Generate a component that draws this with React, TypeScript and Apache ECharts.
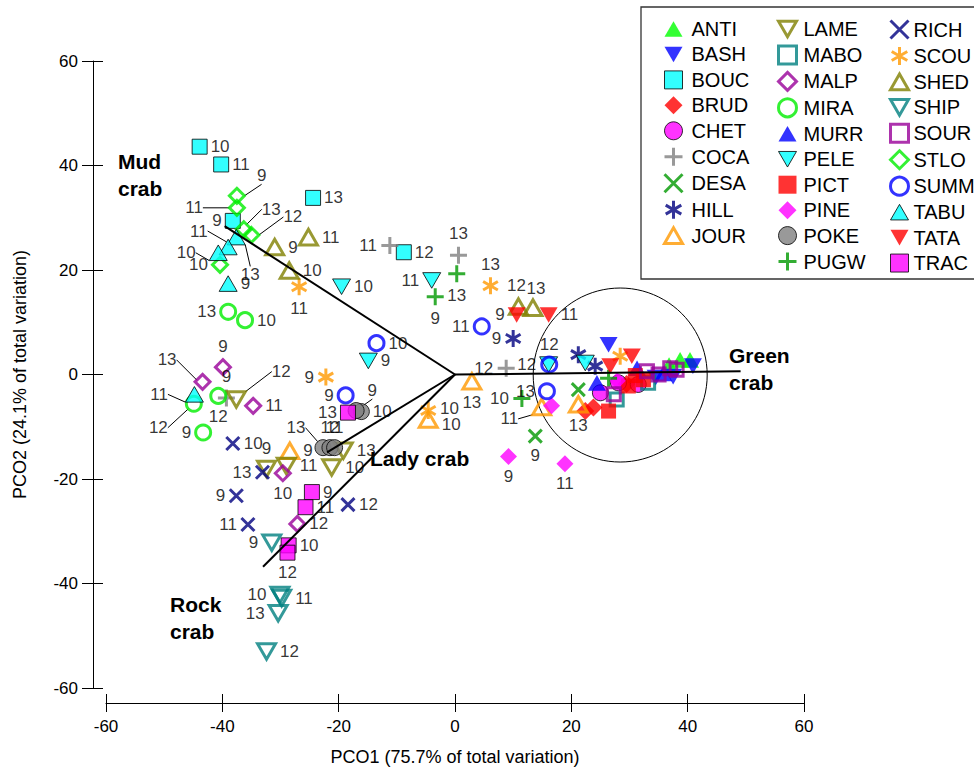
import React, { useEffect, useRef } from 'react';
import * as echarts from 'echarts';

// ---------- DATA ----------
const X_TICKS = [-60, -40, -20, 0, 20, 40, 60];
const Y_TICKS = [-60, -40, -20, 0, 20, 40, 60];

const ANTI = [[38.7, 2.8, ''], [40.4, 2.8, ''], [36.8, 1.8, '']];
const BASH = [[26.4, 5.7, ''], [40.9, 1.6, ''], [34.5, -0.6, ''], [37.5, -0.4, '']];
const BOUC = [[-43.9, 43.6, '10'], [-40.2, 40.2, '11'], [-24.4, 33.8, '13'], [-38.2, 29.4, '9'], [-8.8, 23.4, '12']];
const BRUD = [[22.4, -7.0, ''], [23.8, -6.3, ''], [29.5, -1.8, '']];
const CHET = [[25.0, -3.5, ''], [28.1, -1.6, ''], [31.5, -1.9, '']];
const COCA = [[-11.2, 24.7, '11'], [0.6, 22.8, '13'], [8.8, 1.2, '12'], [-39.3, -4.5, '9']];
const DESA = [[13.8, -11.8, '9'], [21.2, -2.9, '']];
const HILL = [[10.0, 6.9, '9'], [21.2, 3.8, ''], [24.1, 1.6, '']];
const JOUR = [[-28.4, -14.6, '9'], [-4.6, -8.6, '10'], [2.9, -1.3, '13'], [14.9, -6.2, '11'], [21.2, -5.7, '13']];
const LAME = [[-37.6, -4.8, '12'], [-32.4, -18.1, '9'], [-29.0, -17.5, '11'], [-21.2, -17.8, '10'], [-19.2, -14.6, '13']];
const MABO = [[27.8, -4.8, ''], [33.2, -1.6, '']];
const MALP = [[-43.4, -1.4, '13'], [-39.9, 1.4, '9'], [-34.7, -6.0, '11'], [-29.6, -18.9, '10'], [-27.1, -28.6, '12']];
const MIRA = [[-39.0, 12.0, '13'], [-36.1, 10.4, '10'], [-44.9, -5.6, '12'], [-40.7, -4.1, '12'], [-43.3, -11.1, '9']];
const MURR = [[24.4, -1.6, ''], [31.3, 1.2, ''], [35.8, 0.2, '']];
const PELE = [[-19.5, 16.8, '10'], [-4.0, 18.0, '11'], [-14.9, 2.6, '9'], [16.1, 1.9, '12'], [22.4, 2.2, '']];
const PICT = [[26.4, -7.0, ''], [29.8, -2.2, ''], [32.4, -1.0, ''], [31.0, -0.2, '']];
const PINE = [[9.2, -15.7, '9'], [18.9, -17.1, '11'], [16.6, -6.0, ''], [27.9, -1.2, '']];
const POKE = [[-16.1, -7.1, '10'], [-17.0, -6.9, '9'], [-22.7, -14.0, '13'], [-21.5, -14.0, '12'], [-20.7, -14.0, '11']];
const PUGW = [[0.3, 19.3, '13'], [-3.4, 14.9, '9'], [11.5, -4.6, '10'], [26.4, -0.7, '']];
const RICH = [[-38.2, -13.2, '10'], [-33.1, -18.7, '13'], [-37.6, -23.2, '9'], [-35.6, -28.7, '11'], [-18.4, -24.9, '12']];
const SCOU = [[-26.8, 16.8, '11'], [-22.2, -0.5, '9'], [-4.6, -6.9, '10'], [6.1, 17.0, '13'], [28.4, 3.5, '']];
const SHED = [[-25.2, 26.3, '11'], [-31.0, 24.4, '9'], [-28.5, 19.9, '10'], [10.9, 13.0, '12'], [13.4, 12.8, '13']];
const SHIP = [[-31.5, -32.2, '9'], [-30.1, -42.2, '10'], [-29.8, -42.8, '11'], [-30.4, -45.7, '13'], [-32.4, -53.0, '12']];
const SOUR = [[27.3, -3.8, ''], [33.0, 0.6, ''], [35.0, 0.0, ''], [37.0, 1.2, ''], [38.1, 0.9, '']];
const STLO = [[-37.5, 34.2, '9'], [-37.5, 31.9, '11'], [-36.3, 27.8, '13'], [-35.0, 26.7, '12'], [-40.4, 21.0, '10']];
const SUMM = [[-13.5, 6.0, '10'], [-18.8, -4.0, '9'], [4.6, 9.2, '11'], [16.2, 1.9, '12'], [15.8, -3.2, '13']];
const TABU = [[-37.6, 26.3, '13'], [-39.0, 24.4, '11'], [-40.7, 23.3, '10'], [-39.0, 17.4, '9'], [-44.8, -3.8, '11']];
const TATA = [[10.6, 11.4, '9'], [16.1, 11.4, '11'], [30.4, 3.5, ''], [26.7, 1.6, '']];
const TRAC = [[-18.4, -7.3, '13'], [-24.6, -22.5, '9'], [-25.7, -25.4, '11'], [-28.6, -32.7, '10'], [-28.8, -34.1, '12']];

// vectors (end points from origin)
const VECTORS = [
  { name: 'Mud crab', end: [-39.6, 28.4] },
  { name: 'Green crab', end: [49.1, 0.6] },
  { name: 'Lady crab', end: [-22.0, -14.9] },
  { name: 'Rock crab', end: [-33.0, -36.8] },
];
const CIRCLE_CENTER = [28.4, -0.1];

const SITE_DATA: Record<string, any[]> = {
  ANTI, BASH, BOUC, BRUD, CHET, COCA, DESA, HILL, JOUR, LAME, MABO, MALP, MIRA, MURR,
  PELE, PICT, PINE, POKE, PUGW, RICH, SCOU, SHED, SHIP, SOUR, STLO, SUMM, TABU, TATA, TRAC,
};

const LEGEND_COL1 = ['ANTI', 'BASH', 'BOUC', 'BRUD', 'CHET', 'COCA', 'DESA', 'HILL', 'JOUR'];
const LEGEND_COL2 = ['LAME', 'MABO', 'MALP', 'MIRA', 'MURR', 'PELE', 'PICT', 'PINE', 'POKE', 'PUGW'];
const LEGEND_COL3 = ['RICH', 'SCOU', 'SHED', 'SHIP', 'SOUR', 'STLO', 'SUMM', 'TABU', 'TATA', 'TRAC'];

// ---------- STYLES ----------
const TRI_UP = 'path://M5,0L10,8.66L0,8.66Z';
const TRI_DN = 'path://M0,0L10,0L5,8.66Z';
const PLUS = 'path://M5,0L5,10M0,5L10,5';
const CROSS = 'path://M0,0L10,10M10,0L0,10';
const STAR = 'path://M5,0L5,10M0.67,2.5L9.33,7.5M0.67,7.5L9.33,2.5';

type St = { sym: string; color: string; kind: 'fill' | 'edge' | 'hollow' | 'line'; size: number };
const STYLE: Record<string, St> = {
  ANTI: { sym: TRI_UP, color: '#00ff00', kind: 'fill', size: 18 },
  BASH: { sym: TRI_DN, color: '#0000ff', kind: 'fill', size: 18 },
  BOUC: { sym: 'rect', color: '#00ffff', kind: 'edge', size: 15 },
  BRUD: { sym: 'diamond', color: '#ff0000', kind: 'fill', size: 18 },
  CHET: { sym: 'circle', color: '#ff00ff', kind: 'edge', size: 16 },
  COCA: { sym: PLUS, color: '#808080', kind: 'line', size: 17 },
  DESA: { sym: CROSS, color: '#009900', kind: 'line', size: 13 },
  HILL: { sym: STAR, color: '#000080', kind: 'line', size: 17 },
  JOUR: { sym: TRI_UP, color: '#ff9900', kind: 'hollow', size: 18 },
  LAME: { sym: TRI_DN, color: '#808000', kind: 'hollow', size: 18 },
  MABO: { sym: 'rect', color: '#008080', kind: 'hollow', size: 13 },
  MALP: { sym: 'diamond', color: '#990099', kind: 'hollow', size: 15 },
  MIRA: { sym: 'circle', color: '#00ee00', kind: 'hollow', size: 15 },
  MURR: { sym: TRI_UP, color: '#0000ff', kind: 'fill', size: 18 },
  PELE: { sym: TRI_DN, color: '#00ffff', kind: 'edge', size: 18 },
  PICT: { sym: 'rect', color: '#ff0000', kind: 'fill', size: 15 },
  PINE: { sym: 'diamond', color: '#ff00ff', kind: 'fill', size: 17 },
  POKE: { sym: 'circle', color: '#808080', kind: 'edge', size: 16 },
  PUGW: { sym: PLUS, color: '#009900', kind: 'line', size: 17 },
  RICH: { sym: CROSS, color: '#000080', kind: 'line', size: 13 },
  SCOU: { sym: STAR, color: '#ff9900', kind: 'line', size: 17 },
  SHED: { sym: TRI_UP, color: '#808000', kind: 'hollow', size: 18 },
  SHIP: { sym: TRI_DN, color: '#008080', kind: 'hollow', size: 18 },
  SOUR: { sym: 'rect', color: '#990099', kind: 'hollow', size: 13 },
  STLO: { sym: 'diamond', color: '#00ee00', kind: 'hollow', size: 15 },
  SUMM: { sym: 'circle', color: '#0000ff', kind: 'hollow', size: 15 },
  TABU: { sym: TRI_UP, color: '#00ffff', kind: 'edge', size: 18 },
  TATA: { sym: TRI_DN, color: '#ff0000', kind: 'fill', size: 18 },
  TRAC: { sym: 'rect', color: '#ff00ff', kind: 'edge', size: 15 },
};

// label placement per point (aligned with data arrays)
const LABEL_POS: Record<string, string[]> = {
  BOUC: ['right', 'right', 'right', 'left', 'right'],
  COCA: ['left', 'top', 'left', 'top'],
  DESA: ['bottom', 'right'],
  HILL: ['left', 'right', 'right'],
  JOUR: ['right', 'right', 'bottom', 'left', 'bottom'],
  LAME: ['right', 'top', 'right', 'right', 'right'],
  MALP: ['left', 'top', 'right', 'bottom', 'right'],
  MIRA: ['left', 'right', 'left', 'bottom', 'left'],
  PELE: ['right', 'left', 'right', 'left', 'right'],
  PINE: ['bottom', 'bottom', 'right', 'right'],
  POKE: ['right', 'right', 'left', 'top', 'top'],
  PUGW: ['bottom', 'bottom', 'left', 'right'],
  RICH: ['right', 'left', 'left', 'left', 'right'],
  SCOU: ['bottom', 'left', 'right', 'top', 'right'],
  SHED: ['right', 'right', 'right', 'top', 'top'],
  SHIP: ['left', 'left', 'right', 'left', 'right'],
  STLO: ['right', 'left', 'right', 'right', 'left'],
  SUMM: ['right', 'left', 'left', 'top', 'left'],
  TABU: ['bottom', 'left', 'left', 'right', 'left'],
  TATA: ['left', 'right', 'right', 'right'],
  TRAC: ['left', 'right', 'right', 'right', 'bottom'],
};
// leader-line label offsets [dx, dy] for a few points
const LEADERS: Record<string, Record<number, [number, number]>> = {
  STLO: { 0: [8, -20], 1: [-22, 0], 2: [6, -20], 3: [20, -18] },
  TABU: { 0: [14, 18], 1: [-8, -16], 2: [-10, 0], 4: [-14, 0] },
  MALP: { 0: [-14, -22] },
  MIRA: { 2: [-14, 24] },
  LAME: { 0: [22, -28] },
  POKE: { 1: [0, -20], 2: [-6, -20] },
  JOUR: { 3: [-10, 12] },
};
// small label nudges without leader lines
const NUDGES: Record<string, Record<number, [number, number]>> = {
  JOUR: { 1: [0, 5] },
  SCOU: { 2: [0, -2] },
  SHED: { 3: [-2, 0], 4: [3, 2] },
};

const FONT = '"Liberation Sans", Arial, Helvetica, sans-serif';

function siteSeries(name: string) {
  const st = STYLE[name];
  const pos = LABEL_POS[name] || [];
  const lead = LEADERS[name] || {};
  const nudge = NUDGES[name] || {};
  let itemStyle: any;
  if (st.kind === 'fill') itemStyle = { color: st.color, borderWidth: 0 };
  else if (st.kind === 'edge') itemStyle = { color: st.color, borderColor: '#000', borderWidth: 1 };
  else if (st.kind === 'hollow') itemStyle = { color: 'rgba(255,255,255,0)', borderColor: st.color, borderWidth: 3 };
  else itemStyle = { color: st.color, borderColor: st.color, borderWidth: 3 };
  return {
    type: 'scatter',
    name,
    symbol: st.sym,
    symbolSize: st.size,
    symbolKeepAspect: true,
    itemStyle,
    label: {
      show: true,
      formatter: '{b}',
      color: '#000',
      fontSize: 17,
      fontFamily: FONT,
      distance: 3,
    },
    labelLine: { show: false, lineStyle: { color: '#000', width: 1 } },
    labelLayout: (p: any) => {
      const o = lead[p.dataIndex] || nudge[p.dataIndex];
      return o ? { dx: o[0], dy: o[1] } : {};
    },
    emphasis: { disabled: true },
    data: SITE_DATA[name].map((d: any, i: number) => ({
      value: [d[0], d[1]],
      name: d[2],
      label: { position: pos[i] || 'right' },
      labelLine: { show: !!lead[i], length2: 0 },
    })),
    z: 2,
  };
}

function legendFor(data: string[], left: number, pad: number) {
  return {
    orient: 'vertical',
    left,
    top: 19,
    padding: 0,
    itemWidth: 18,
    itemHeight: 18,
    itemGap: 5.45,
    selectedMode: false,
    symbolKeepAspect: true,
    itemStyle: { borderWidth: 'inherit' },
    textStyle: { fontSize: 20, lineHeight: 20, color: '#000', fontFamily: FONT, padding: [0, 0, 0, pad] },
    data,
  };
}

export default function App() {
  const ref = useRef<HTMLDivElement>(null);
  useEffect(() => {
    if (!ref.current) return;
    const chart = echarts.init(ref.current, undefined, { renderer: 'svg' });
    const names = Object.keys(SITE_DATA);
    const axisCommon = {
      type: 'value',
      min: -60,
      max: 60,
      interval: 20,
      splitLine: { show: false },
    };
    const option: any = {
      animation: false,
      backgroundColor: '#fff',
      grid: { left: 106, right: 170, top: 61, bottom: 79 },
      legend: [legendFor(LEGEND_COL1, 663, 4), legendFor(LEGEND_COL2, 777, 2), legendFor(LEGEND_COL3, 889, 0)],
      xAxis: [
        {
          ...axisCommon,
          position: 'bottom',
          offset: 15,
          axisLine: { show: true, onZero: false, lineStyle: { color: '#000', width: 1 } },
          axisTick: { show: true, length: 9, lineStyle: { color: '#000' } },
          axisLabel: { color: '#000', fontSize: 17, fontFamily: FONT, margin: 15, customValues: X_TICKS },
          name: 'PCO1 (75.7% of total variation)',
          nameLocation: 'middle',
          nameGap: 45,
          nameTextStyle: { color: '#000', fontSize: 18, fontFamily: FONT },
        },
        {
          ...axisCommon,
          position: 'bottom',
          offset: 15,
          axisLine: { show: false, onZero: false },
          axisTick: { show: true, inside: true, length: 9, lineStyle: { color: '#000' } },
          axisLabel: { show: false },
        },
      ],
      yAxis: [
        {
          ...axisCommon,
          position: 'left',
          offset: 13,
          axisLine: { show: true, onZero: false, lineStyle: { color: '#000', width: 1 } },
          axisTick: { show: true, length: 11, lineStyle: { color: '#000' } },
          axisLabel: { color: '#000', fontSize: 17, fontFamily: FONT, margin: 15, customValues: Y_TICKS },
          name: 'PCO2 (24.1% of total variation)',
          nameLocation: 'middle',
          nameGap: 64,
          nameTextStyle: { color: '#000', fontSize: 18, fontFamily: FONT },
        },
        {
          ...axisCommon,
          position: 'left',
          offset: 13,
          axisLine: { show: false, onZero: false },
          axisTick: { show: true, inside: true, length: 10, lineStyle: { color: '#000' } },
          axisLabel: { show: false },
        },
      ],
      series: [
        ...names.map((n) => siteSeries(n)),
        ...VECTORS.map((v) => ({
          type: 'line',
          name: v.name,
          data: [[0, 0], v.end],
          symbol: 'none',
          lineStyle: { color: '#000', width: 2 },
          z: 5,
          silent: true,
        })),
      ],
      graphic: [
        { type: 'rect', shape: { x: 641, y: 7, width: 345, height: 272 }, style: { fill: 'none', stroke: '#333', lineWidth: 1.3 }, z: -1 },
        { type: 'text', left: 118, top: 148, style: { text: 'Mud\ncrab', font: `bold 21px ${FONT}`, fill: '#000', lineHeight: 27 } },
        { type: 'text', left: 729, top: 342, style: { text: 'Green\ncrab', font: `bold 21px ${FONT}`, fill: '#000', lineHeight: 27 } },
        { type: 'text', left: 370, top: 448, style: { text: 'Lady crab', font: `bold 21px ${FONT}`, fill: '#000' } },
        { type: 'text', left: 170, top: 591, style: { text: 'Rock\ncrab', font: `bold 21px ${FONT}`, fill: '#000', lineHeight: 27 } },
      ],
    };
    chart.setOption(option);
    const c = chart.convertToPixel({ xAxisIndex: 0, yAxisIndex: 0 }, CIRCLE_CENTER) as number[];
    chart.setOption({
      graphic: [
        ...option.graphic,
        { type: 'circle', shape: { cx: c[0], cy: c[1], r: 87 }, style: { fill: 'none', stroke: '#000', lineWidth: 1 }, z: 1 },
      ],
    });
    return () => chart.dispose();
  }, []);
  return <div ref={ref} style={{ position: 'absolute', left: 0, top: 0, width: 974, height: 771 }} />;
}
